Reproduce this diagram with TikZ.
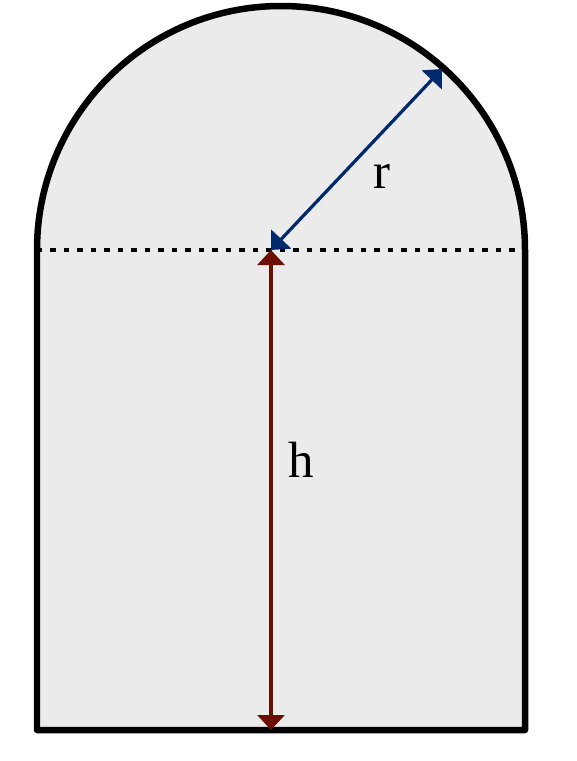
\documentclass[tikz,border=0pt]{standalone}
\usepackage{fontspec}
\setmainfont{Liberation Serif}
\usetikzlibrary{arrows.meta}
\definecolor{wallfill}{HTML}{EBEBEB}
\definecolor{radblue}{HTML}{002A6B}
\definecolor{heightred}{HTML}{6B1000}
\begin{document}
\begin{tikzpicture}[
        x=0.02cm, y=-0.02cm,
        outline/.style={draw=black, line width=0.13cm, line join=round, fill=wallfill},
        dimarrow/.style={{Triangle[length=0.3cm, width=0.54cm]}-{Triangle[length=0.3cm, width=0.54cm]}, line width=0.065cm},
        label/.style={font=\fontsize{29}{32}\selectfont, inner sep=0pt}
    ]
    \useasboundingbox (0,0) rectangle (576,761);
    % window shape
    \draw[outline] (37,730) -- (37,250) arc[start angle=180, end angle=360, radius=244] -- (525,730) -- cycle;
    \draw[line width=0.075cm, dash pattern=on 0.11cm off 0.16cm] (37,250) -- (525,250);

    \coordinate (centre) at (271,250);
    \coordinate (rim) at (442,69);
    \coordinate (base) at (271,730);

    \draw[dimarrow, radblue] (centre) -- (rim);
    \draw[dimarrow, heightred] (base) -- (centre);

    \node[label] (rlabel) at (382,176) {r};
    \node[label] (hlabel) at (301,460) {h};
\end{tikzpicture}
\end{document}
